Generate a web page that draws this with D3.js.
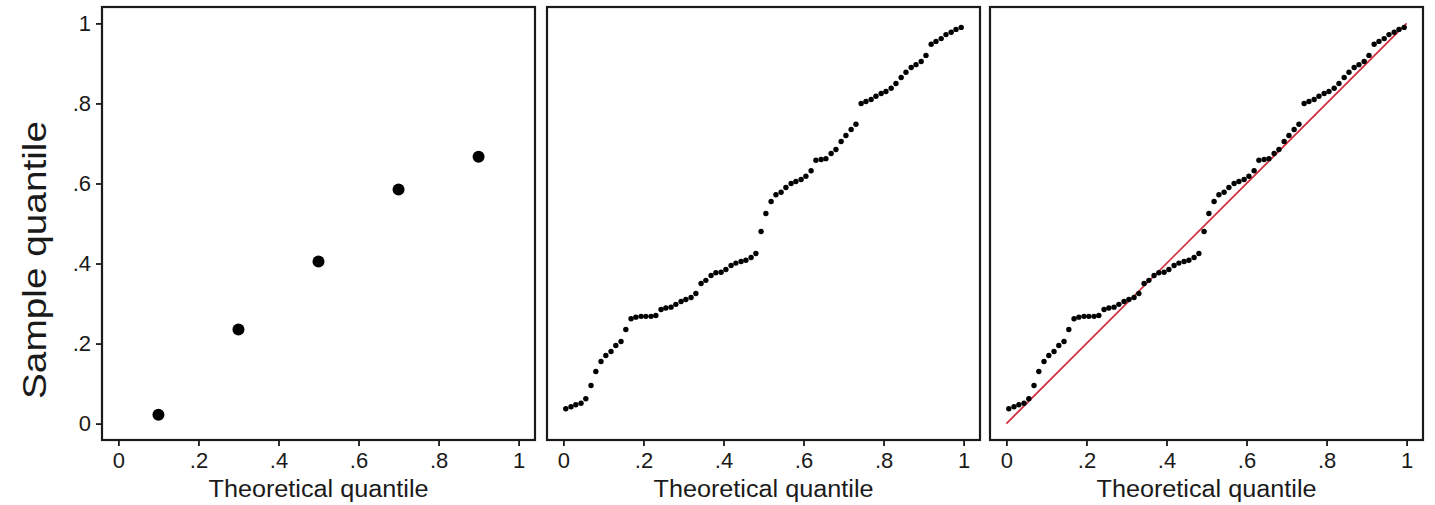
<!DOCTYPE html>
<html>
<head>
<meta charset="utf-8">
<script src="https://cdn.jsdelivr.net/npm/d3@7"></script>
<style>
  html, body { margin: 0; padding: 0; background: #fff; }
  svg { display: block; }
  text { font-family: "Liberation Sans", Arial, Helvetica, sans-serif; fill: #1a1a1a; }
</style>
</head>
<body>
<svg id="chart" width="1435" height="505"></svg>
<script>
// ---- data ----
const tickValues = [0, 0.2, 0.4, 0.6, 0.8, 1];
const tickLabels = ["0", ".2", ".4", ".6", ".8", "1"];
const xTitle = "Theoretical quantile";
const yTitle = "Sample quantile";

// panel 1: five-point sample
const smallTheoretical = [0.1, 0.3, 0.5, 0.7, 0.9];
const smallSample = [0.022, 0.235, 0.405, 0.585, 0.667];

// panels 2 and 3: larger sample (theoretical plotting positions and sample quantiles)
const bigTheoretical = [
  0.006, 0.019, 0.031, 0.044, 0.056, 0.069, 0.081, 0.094, 0.106, 0.119,
  0.131, 0.144, 0.156, 0.169, 0.181, 0.194, 0.206, 0.219, 0.231, 0.244,
  0.256, 0.269, 0.281, 0.294, 0.306, 0.319, 0.331, 0.344, 0.356, 0.369,
  0.381, 0.394, 0.406, 0.419, 0.431, 0.444, 0.456, 0.469, 0.481, 0.494,
  0.506, 0.519, 0.531, 0.544, 0.556, 0.569, 0.581, 0.594, 0.606, 0.619,
  0.631, 0.644, 0.656, 0.669, 0.681, 0.694, 0.706, 0.719, 0.731, 0.744,
  0.756, 0.769, 0.781, 0.794, 0.806, 0.819, 0.831, 0.844, 0.856, 0.869,
  0.881, 0.894, 0.906, 0.919, 0.931, 0.944, 0.956, 0.969, 0.981, 0.994
];
const bigSample = [
  0.037, 0.042, 0.047, 0.051, 0.062, 0.095, 0.130, 0.155, 0.170, 0.180,
  0.195, 0.205, 0.235, 0.262, 0.266, 0.268, 0.268, 0.268, 0.270, 0.285,
  0.289, 0.291, 0.298, 0.305, 0.310, 0.315, 0.325, 0.350, 0.358, 0.370,
  0.377, 0.378, 0.385, 0.395, 0.401, 0.405, 0.408, 0.415, 0.425, 0.480,
  0.525, 0.555, 0.572, 0.578, 0.590, 0.600, 0.605, 0.610, 0.618, 0.632,
  0.658, 0.660, 0.662, 0.675, 0.685, 0.705, 0.720, 0.735, 0.748, 0.800,
  0.805, 0.810, 0.818, 0.825, 0.830, 0.838, 0.850, 0.865, 0.878, 0.890,
  0.897, 0.905, 0.920, 0.948, 0.955, 0.962, 0.972, 0.978, 0.985, 0.990
];
const refLine = [[0, 0], [1, 1]];

// ---- layout ----
const svg = d3.select("#chart");
const size = 433;
const topY = 7;
const panelLefts = [102, 547, 990];
const pad = 0.041;

const y = d3.scaleLinear().domain([-pad, 1 + pad]).range([topY + size, topY]);

const panels = [
  { xs: smallTheoretical, ys: smallSample, r: 6, yAxis: true, ref: false },
  { xs: bigTheoretical, ys: bigSample, r: 2.7, yAxis: false, ref: false },
  { xs: bigTheoretical, ys: bigSample, r: 2.7, yAxis: false, ref: true }
];

panels.forEach((p, k) => {
  const left = panelLefts[k];
  const x = d3.scaleLinear().domain([-pad, 1 + pad]).range([left, left + size]);
  const g = svg.append("g");

  // x axis
  const xAxis = d3.axisBottom(x).tickValues(tickValues)
    .tickFormat((d, i) => tickLabels[i]).tickSize(6).tickPadding(6);
  const gx = g.append("g").attr("transform", `translate(0,${topY + size})`).call(xAxis);
  gx.select(".domain").remove();
  gx.selectAll(".tick line").attr("stroke", "#1a1a1a").attr("stroke-width", 1.8);
  gx.selectAll(".tick text").attr("font-size", 22).attr("fill", "#1a1a1a")
    .style("font-family", "'Liberation Sans', Arial, sans-serif");

  g.append("text")
    .attr("x", left + size / 2).attr("y", 497)
    .attr("text-anchor", "middle").attr("font-size", 23)
    .attr("textLength", 220).attr("lengthAdjust", "spacingAndGlyphs")
    .text(xTitle);

  if (p.yAxis) {
    const yAxis = d3.axisLeft(y).tickValues(tickValues)
      .tickFormat((d, i) => tickLabels[i]).tickSize(6).tickPadding(5);
    const gy = g.append("g").attr("transform", `translate(${left},0)`).call(yAxis);
    gy.select(".domain").remove();
    gy.selectAll(".tick line").attr("stroke", "#1a1a1a").attr("stroke-width", 1.8);
    gy.selectAll(".tick text").attr("font-size", 22).attr("fill", "#1a1a1a")
      .style("font-family", "'Liberation Sans', Arial, sans-serif");
  }

  if (p.ref) {
    g.append("path")
      .datum(refLine)
      .attr("d", d3.line().x(d => x(d[0])).y(d => y(d[1])))
      .attr("stroke", "#d22a38").attr("stroke-width", 1.6).attr("fill", "none");
  }

  g.selectAll("circle.pt")
    .data(p.xs.map((v, i) => [v, p.ys[i]]))
    .join("circle")
    .attr("class", "pt")
    .attr("cx", d => x(d[0])).attr("cy", d => y(d[1]))
    .attr("r", p.r).attr("fill", "#000");

  // frame
  g.append("rect")
    .attr("x", left).attr("y", topY).attr("width", size).attr("height", size)
    .attr("fill", "none").attr("stroke", "#1a1a1a").attr("stroke-width", 2.2);
});

svg.append("text")
  .attr("transform", `translate(46,260) rotate(-90)`)
  .attr("text-anchor", "middle").attr("font-size", 34)
  .attr("textLength", 278).attr("lengthAdjust", "spacingAndGlyphs")
  .text(yTitle);
</script>
</body>
</html>
